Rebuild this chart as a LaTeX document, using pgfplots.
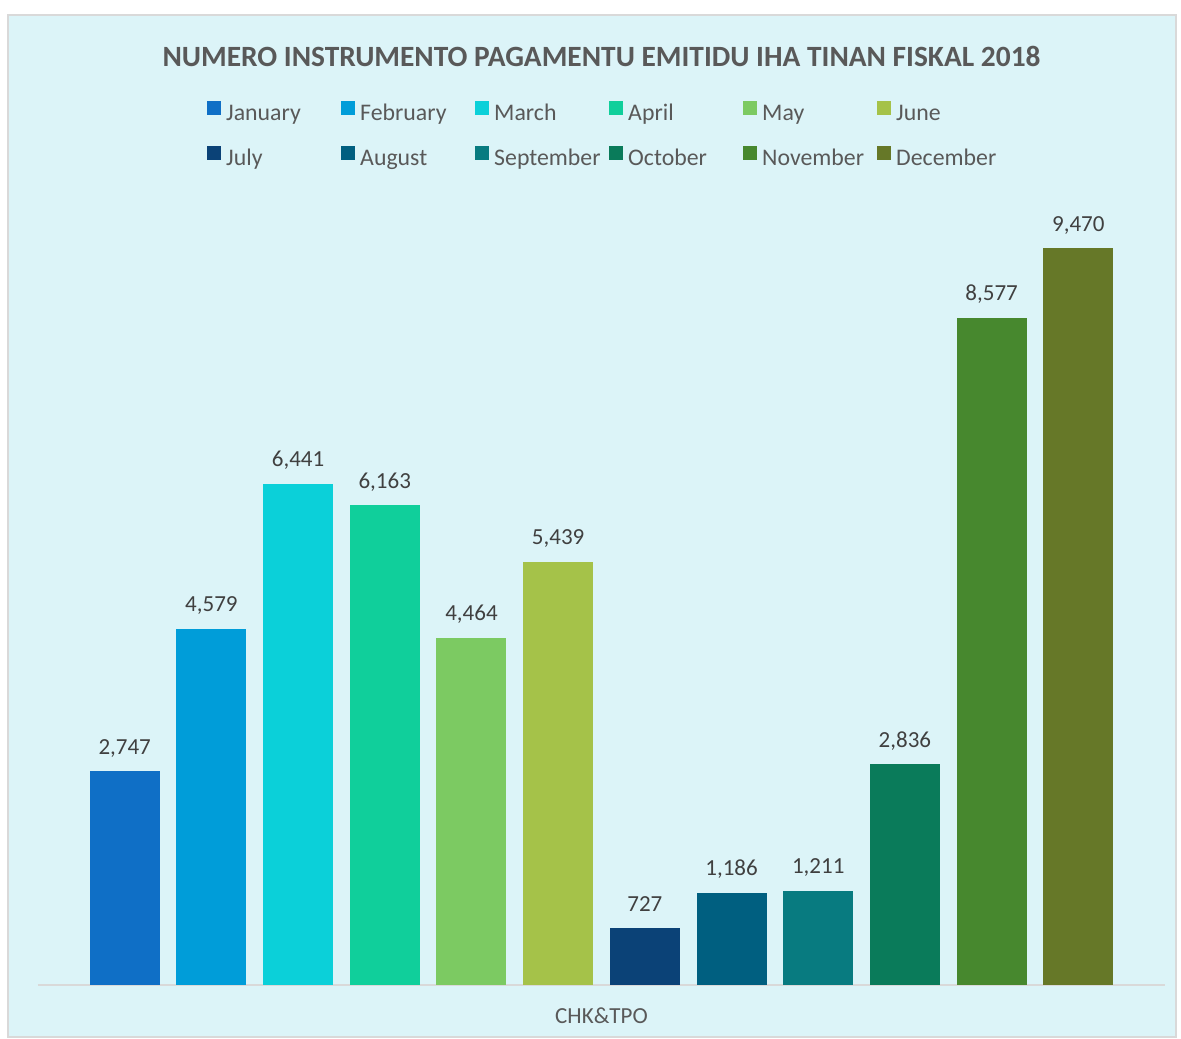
\documentclass[border=0pt]{standalone}
\usepackage{pgfplots}
\pgfplotsset{compat=1.18}
\usepackage{fontspec}
\setmainfont{Carlito}
\definecolor{bgc}{HTML}{DCF4F8}
\definecolor{bordc}{HTML}{D9D9D9}
\definecolor{txt}{HTML}{595959}
\definecolor{lbl}{HTML}{404040}
\definecolor{cJan}{HTML}{0F6FC6}
\definecolor{cFeb}{HTML}{009DD9}
\definecolor{cMar}{HTML}{0BD0D9}
\definecolor{cApr}{HTML}{10CF9B}
\definecolor{cMay}{HTML}{7CCA62}
\definecolor{cJun}{HTML}{A5C249}
\definecolor{cJul}{HTML}{0B4277}
\definecolor{cAug}{HTML}{005F80}
\definecolor{cSep}{HTML}{087B80}
\definecolor{cOct}{HTML}{0A7B5A}
\definecolor{cNov}{HTML}{47882E}
\definecolor{cDec}{HTML}{667828}
\begin{document}
\begin{tikzpicture}[x=1pt,y=1pt]
\fill[white] (0,0) rectangle (1181,1039);
\filldraw[fill=bgc, draw=bordc, line width=1.5pt] (8,2) rectangle (1176,1024);
\begin{axis}[
  at={(38pt,54pt)}, anchor=south west,
  scale only axis, width=1127pt, height=785pt,
  xmin=-1, xmax=12, ymin=0, ymax=10087,
  enlargelimits=false, clip=false,
  axis x line*=bottom, axis y line=none,
  axis line style={draw=bordc, line width=1.5pt},
  xtick=\empty, ytick=\empty,
  ybar, bar width=70pt, bar shift=0pt,
  every axis plot/.append style={draw=none},
  nodes near coords={\pgfmathprintnumber[fixed,precision=0,1000 sep={,},assume math mode=true]{\pgfplotspointmeta}},
  nodes near coords style={anchor=base, yshift=17pt, inner sep=0pt, font=\fontsize{23}{27}\selectfont, text=lbl},
  xlabel={CHK\&TPO},
  xlabel style={at={(axis description cs:0.5,0)}, anchor=center, yshift=-31pt, font=\fontsize{23}{27}\selectfont, text=txt},
  title={NUMERO INSTRUMENTO PAGAMENTU EMITIDU IHA TINAN FISKAL 2018},
  title style={at={(axis description cs:0.5,1.1758)}, anchor=center, font=\fontsize{29.4}{34}\bfseries\selectfont, text=txt},
  legend columns=6,
  legend image code/.code={\fill[#1] (0pt,0pt) rectangle (14pt,14pt);},
  legend style={at={(axis description cs:0.15,1.1261)}, anchor=north west, draw=none, fill=none, inner sep=0pt,
    font=\fontsize{23.8}{27}\selectfont, text=txt,
    row sep=19pt,
    /tikz/every odd column/.append style={column sep=5pt},
    /tikz/every even column/.append style={column sep=0pt},
    nodes={text width=115pt, text height=17pt, text depth=6pt, inner sep=0pt, align=left}},
]
\addplot[fill=cJan] coordinates {(0,2747)};
\addplot[fill=cFeb] coordinates {(1,4579)};
\addplot[fill=cMar] coordinates {(2,6441)};
\addplot[fill=cApr] coordinates {(3,6163)};
\addplot[fill=cMay] coordinates {(4,4464)};
\addplot[fill=cJun] coordinates {(5,5439)};
\addplot[fill=cJul] coordinates {(6,727)};
\addplot[fill=cAug] coordinates {(7,1186)};
\addplot[fill=cSep] coordinates {(8,1211)};
\addplot[fill=cOct] coordinates {(9,2836)};
\addplot[fill=cNov] coordinates {(10,8577)};
\addplot[fill=cDec] coordinates {(11,9470)};
\legend{January,February,March,April,May,June,July,August,September,October,November,December}
\end{axis}
\end{tikzpicture}
\end{document}
